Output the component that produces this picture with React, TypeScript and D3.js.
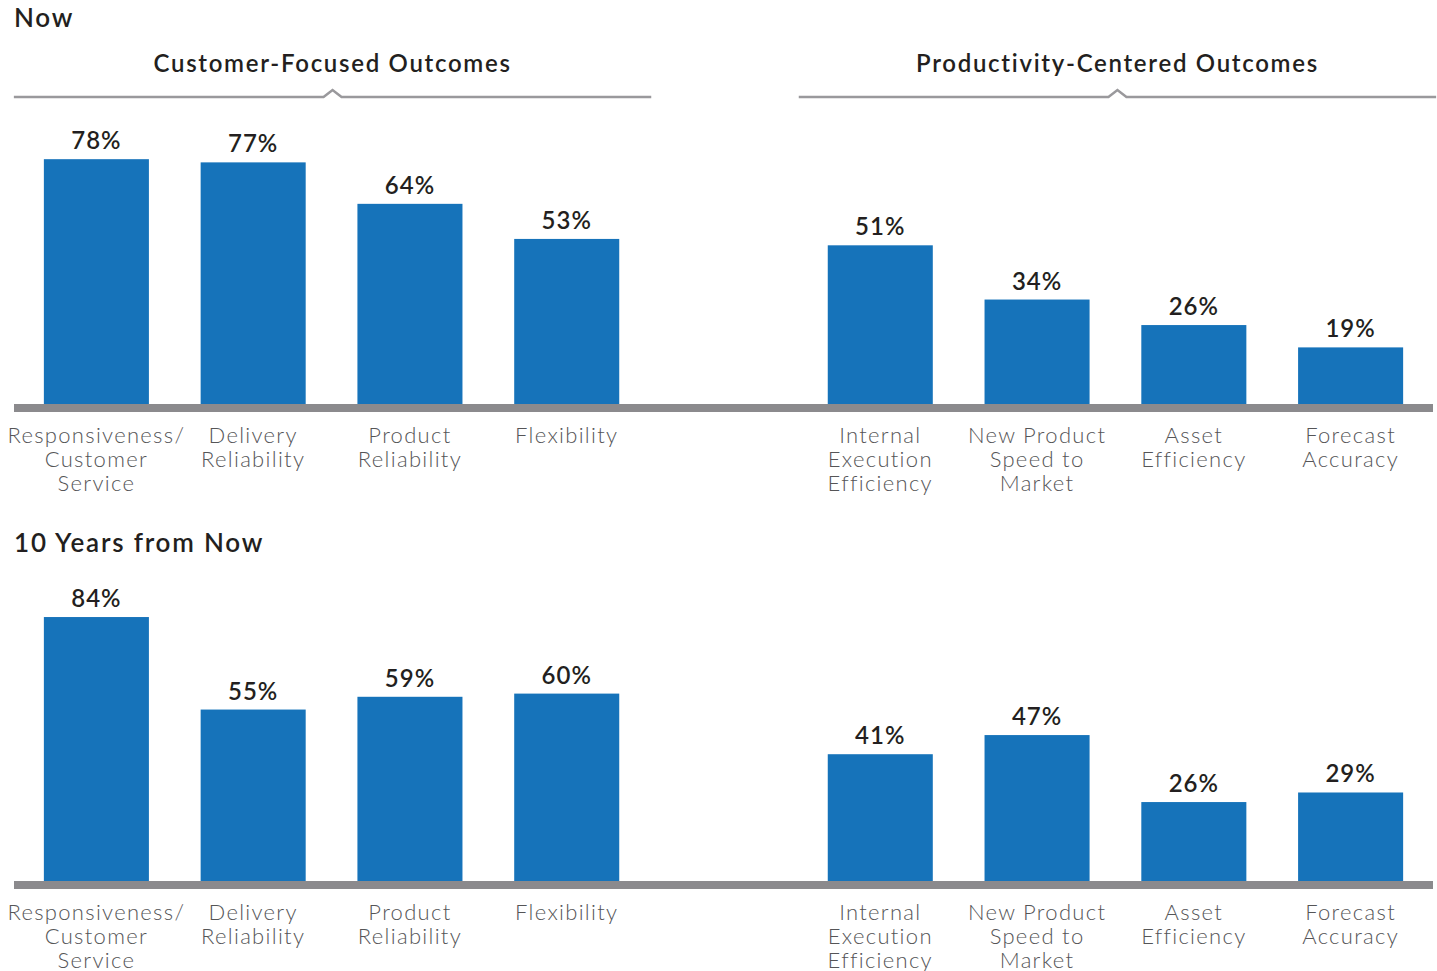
import React from "react";
import * as d3 from "d3";

const categories = [
  "Responsiveness/\nCustomer\nService",
  "Delivery\nReliability",
  "Product\nReliability",
  "Flexibility",
  "Internal\nExecution\nEfficiency",
  "New Product\nSpeed to\nMarket",
  "Asset\nEfficiency",
  "Forecast\nAccuracy",
];
const groups = ["Customer-Focused Outcomes", "Productivity-Centered Outcomes"];
const nowValues = [78, 77, 64, 53, 51, 34, 26, 19];
const futureValues = [84, 55, 59, 60, 41, 47, 26, 29];
const panelTitles = ["Now", "10 Years from Now"];

const W = 1437;
const H = 971;
const BLUE = "#1673ba";
const GRAY = "#8b8a8d";
const FONT = "Lato, 'Noto Sans', sans-serif";

const slots = ["c0", "c1", "c2", "c3", "gap", "c4", "c5", "c6", "c7"];
const x = d3.scaleBand<string>().domain(slots).range([18, 1429]).paddingInner(0.33).paddingOuter(0.165);
const slotOf = (i: number) => `c${i}`;

function Panel({ values, zeroY, title, titleY }: { values: number[]; zeroY: number; title: string; titleY: number }) {
  const y = d3.scaleLinear().domain([0, 100]).range([zeroY, zeroY - 319]);
  const bw = x.bandwidth();
  return (
    <g>
      <text x={14} y={titleY} fontFamily={FONT} fontSize={26} fontWeight={600} letterSpacing={1.8} fill="#231f20">
        {title}
      </text>
      {values.map((v, i) => {
        const xi = x(slotOf(i))!;
        return (
          <g key={i}>
            <rect x={xi} y={y(v)} width={bw} height={y(0) - y(v)} fill={BLUE} />
            <text
              x={xi + bw / 2}
              y={y(v) - 10}
              textAnchor="middle"
              fontFamily={FONT}
              fontSize={24}
              fontWeight={600}
              letterSpacing={1}
              fill="#231f20"
            >
              {v}%
            </text>
            {categories[i].split("\n").map((line, j) => (
              <text
                key={j}
                x={xi + bw / 2}
                y={zeroY + 35 + j * 24}
                textAnchor="middle"
                fontFamily={FONT}
                fontSize={22}
                fontWeight={300}
                letterSpacing={1.3}
                fill="#555557"
              >
                {line}
              </text>
            ))}
          </g>
        );
      })}
      <rect x={14} y={zeroY - 4} width={1419} height={8} fill={GRAY} />
    </g>
  );
}

export default function App() {
  const bw = x.bandwidth();
  const brackets = [
    { x0: x("c0")! - 30, x1: x("c3")! + bw + 32, label: groups[0] },
    { x0: x("c4")! - 29, x1: x("c7")! + bw + 33, label: groups[1] },
  ];
  return (
    <svg width={W} height={H} style={{ position: "absolute", left: 0, top: 0 }}>
      <rect width={W} height={H} fill="#fff" />
      {brackets.map((b, i) => {
        const cx = (b.x0 + b.x1) / 2;
        const by = 97;
        return (
          <g key={i}>
            <text
              x={cx}
              y={72}
              textAnchor="middle"
              fontFamily={FONT}
              fontSize={24}
              fontWeight={600}
              letterSpacing={1.7}
              fill="#231f20"
            >
              {b.label}
            </text>
            <path
              d={`M${b.x0},${by}H${cx - 9}L${cx},${by - 7}L${cx + 9},${by}H${b.x1}`}
              fill="none"
              stroke="#9a999c"
              strokeWidth={2.5}
            />
          </g>
        );
      })}
      <Panel values={nowValues} zeroY={408} title={panelTitles[0]} titleY={27} />
      <Panel values={futureValues} zeroY={885} title={panelTitles[1]} titleY={552} />
    </svg>
  );
}
